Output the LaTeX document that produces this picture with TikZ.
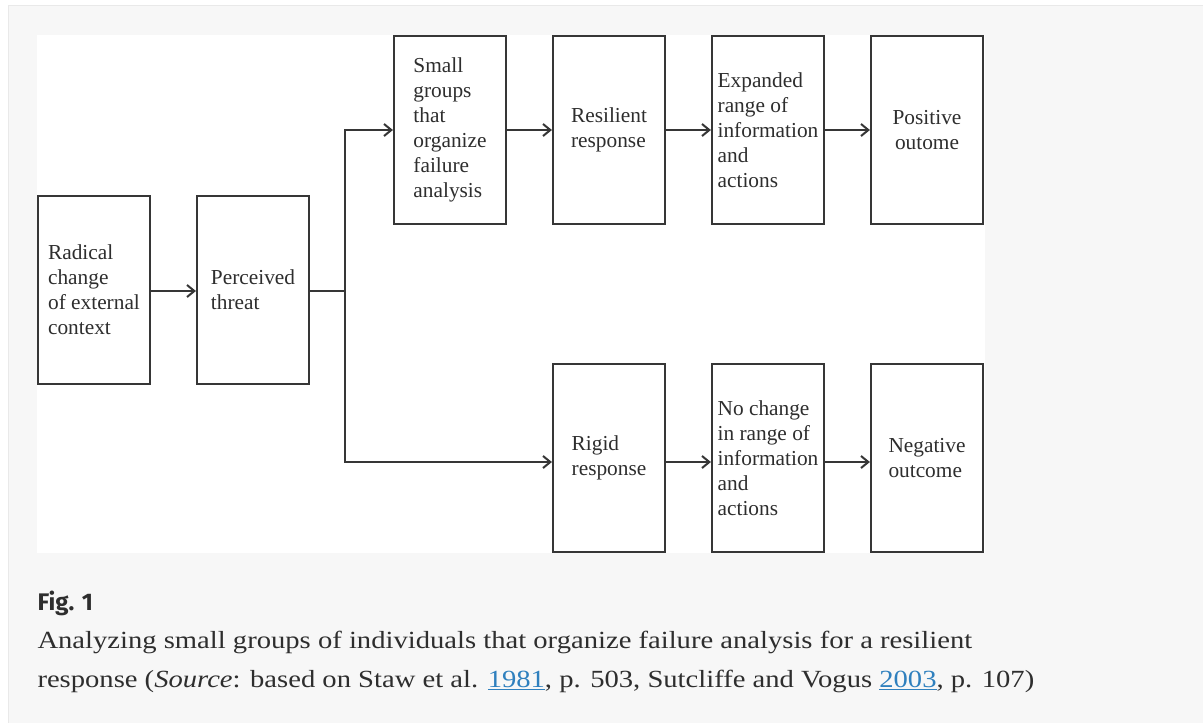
\documentclass[tikz,border=0pt]{standalone}
\usepackage{fontspec}
\usepackage{xcolor}
\usetikzlibrary{arrows.meta}

\setmainfont{Liberation Serif}
\newfontfamily\boxfont{Liberation Serif}
\newfontfamily\capfont{Liberation Serif}[FakeStretch=1.16]
\newfontfamily\figfont{Fira Sans}

\definecolor{panelgray}{HTML}{F7F7F7}
\definecolor{paneledge}{HTML}{E9E9E9}
\definecolor{linegray}{HTML}{363636}
\definecolor{textgray}{HTML}{2E2E2E}
\definecolor{linkblue}{HTML}{2F80BE}

\newcommand\reflink[1]{\textcolor{linkblue}{\underline{#1}}}

\tikzset{every picture/.style={line width=0.75pt},
  stepbox/.style={draw=linegray, line width=1.6pt, rectangle, minimum width=84pt, minimum height=141pt,
    inner sep=0pt, align=left, text=textgray, font=\boxfont\fontsize{16}{18.75}\selectfont},
  flow/.style={draw=linegray, line width=1.5pt, -{Straight Barb[length=5.5pt,width=9pt]}},
  captext/.style={anchor=base west, inner sep=0pt, text=textgray, font=\capfont\fontsize{18.5}{20}\selectfont}}

\begin{document}
\begin{tikzpicture}[x=0.75pt,y=0.75pt,yscale=-1,xscale=1]
    \useasboundingbox (0,0) rectangle (1203,722);
    \fill[white] (0,0) rectangle (1203,722);
    \draw[paneledge, fill=panelgray] (8,5) rectangle (1210,730);
    \fill[white] (37,35) rectangle (985,553);

    % boxes
    \node[stepbox] (radical) at (94,290) {Radical\\change\\of external\\context};
    \node[stepbox] (perceived) at (253,290) {Perceived\\threat};
    \node[stepbox] (small) at (450,130) {Small\\groups\\that\\organize\\failure\\analysis};
    \node[stepbox] (resilient) at (609,130) {Resilient\\response};
    \node[stepbox] (expanded) at (768,130) {Expanded\\range of\\information\\and\\actions};
    \node[stepbox, align=center] (positive) at (927,130) {Positive\\outome};
    \node[stepbox] (rigid) at (609,458) {Rigid\\response};
    \node[stepbox] (nochange) at (768,458) {No change\\in range of\\information\\and\\actions};
    \node[stepbox] (negative) at (927,458) {Negative\\outcome};

    % connectors
    \coordinate (split) at (345,291);
    \coordinate (low) at (345,462);
    \draw[flow] (radical.east |- split) -- (perceived.west |- split);
    \draw[draw=linegray, line width=1.5pt] (perceived.east |- split) -- (split);
    \draw[flow] (split) |- (small.west);
    \draw[flow] (split) |- (low -| rigid.west);
    \draw[flow] (small) -- (resilient);
    \draw[flow] (resilient) -- (expanded);
    \draw[flow] (expanded) -- (positive);
    \draw[flow] (rigid.east |- low) -- (nochange.west |- low);
    \draw[flow] (nochange.east |- low) -- (negative.west |- low);

    % caption
    \node[anchor=base west, inner sep=0pt, text=textgray, font=\figfont\bfseries\fontsize{18}{20}\selectfont] (figlabel) at (37,610) {Fig. 1};
    \node[captext] (capone) at (37,648) {Analyzing small groups of individuals that organize failure analysis for a resilient};
    \node[captext] (captwo) at (37,687) {response (\textit{Source}: based on Staw et al. \reflink{1981}, p. 503, Sutcliffe and Vogus \reflink{2003}, p. 107)};
\end{tikzpicture}
\end{document}
